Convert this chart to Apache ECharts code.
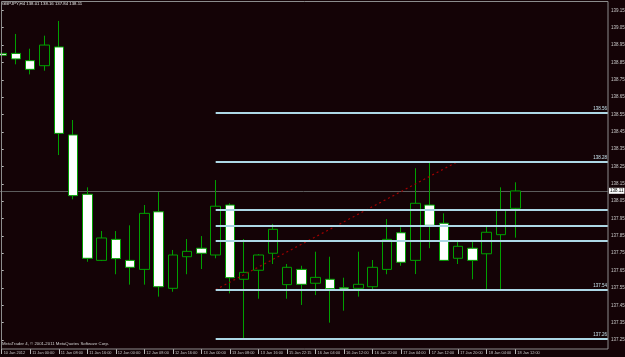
<!DOCTYPE html>
<html><head><meta charset="utf-8">
<script src="https://cdn.jsdelivr.net/npm/echarts@6/dist/echarts.min.js"></script>
<style>html,body{margin:0;padding:0;background:#140306;}#c{width:625px;height:357px;}</style>
</head><body><div id="c"></div>
<script>
const symbolTitle = 'GBPJPY,H4 138.01 138.16 137.84 138.11';
const copyright = 'MetaTrader 4, \u00a9 2001-2011 MetaQuotes Software Corp.';

const categories = ['10 Jan 2012','10 Jan 20:00','11 Jan 00:00','11 Jan 04:00','11 Jan 08:00','11 Jan 12:00',
  '11 Jan 16:00','11 Jan 20:00','12 Jan 00:00','12 Jan 04:00','12 Jan 08:00','12 Jan 12:00','12 Jan 16:00',
  '12 Jan 20:00','13 Jan 00:00','13 Jan 04:00','13 Jan 08:00','13 Jan 12:00','13 Jan 16:00','13 Jan 20:00',
  '15 Jan 22:15','16 Jan 00:00','16 Jan 04:00','16 Jan 08:00','16 Jan 12:00','16 Jan 16:00','16 Jan 20:00',
  '17 Jan 00:00','17 Jan 04:00','17 Jan 08:00','17 Jan 12:00','17 Jan 16:00','17 Jan 20:00','18 Jan 00:00',
  '18 Jan 04:00','18 Jan 08:00','18 Jan 12:00'];

const opens  = [138.902,138.902,138.860,138.831,138.939,138.432,138.090,137.709,137.830,137.709,137.657,137.989,137.548,137.730,137.779,137.740,138.028,137.600,137.652,137.750,137.569,137.657,137.577,137.600,137.551,137.548,137.557,137.657,137.868,137.709,138.028,137.923,137.721,137.779,137.747,137.857,138.009];
const closes = [138.891,138.870,138.810,138.950,138.441,138.082,137.721,137.838,137.719,137.669,137.980,137.557,137.740,137.761,137.750,138.021,137.609,137.640,137.740,137.888,137.669,137.571,137.611,137.546,137.544,137.571,137.669,137.830,137.698,138.038,137.911,137.709,137.790,137.709,137.871,137.998,138.109];
const lows   = [138.845,138.839,138.781,138.802,138.316,138.061,137.701,137.705,137.629,137.569,137.569,137.500,137.528,137.629,137.659,137.721,137.519,137.260,137.488,137.688,137.488,137.452,137.509,137.350,137.419,137.500,137.542,137.629,137.678,137.630,137.779,137.705,137.688,137.600,137.544,137.544,137.840];
const highs  = [139.054,139.014,138.929,139.004,139.089,138.518,138.130,137.878,137.878,137.911,138.028,138.103,137.769,137.832,137.849,138.172,138.038,137.832,137.745,137.919,137.688,137.678,137.759,137.730,137.609,137.759,137.711,137.947,137.900,138.240,138.272,137.980,137.822,137.822,137.913,138.130,138.159];

const fibLevels = [138.56, 138.28, 138.00, 137.91, 137.82, 137.54, 137.26];
const fibLabels = ['138.56', '138.28', '', '', '', '137.54', '137.26'];
const fibStartBar = 15;
const trendBars = [15, 32];
const trendPrices = [137.54, 138.28];
const lastPrice = 138.11;

const yMin = 137.15, yMax = 139.25, yStep = 0.1;
const nSlots = 43;
const FONT = 'Liberation Sans';
const FS = 4.5;
const BG = '#140306';

const xCats = categories.concat(new Array(nSlots - categories.length).fill(''));
const candleData = categories.map((c, i) => [opens[i], closes[i], lows[i], highs[i]]);
const showIdx = (i) => i % 2 === 0 && i < categories.length;

const chart = echarts.init(document.getElementById('c'), null, {renderer: 'canvas'});
chart.setOption({
  backgroundColor: BG,
  animation: false,
  title: {text: symbolTitle, left: 2, top: 2, padding: 0,
    textStyle: {color: '#e6e6e6', fontSize: 4.3, fontFamily: FONT, fontWeight: 'normal'}},
  grid: {left: -5.43, right: 17, top: -7, bottom: -0.35, containLabel: false, outerBoundsMode: 'none'},
  xAxis: [
    {type: 'category', data: xCats, boundaryGap: true, offset: -8.35,
      axisLine: {show: false},
      axisTick: {show: true, alignWithLabel: true, interval: showIdx, length: 5, lineStyle: {color: '#b8b8b8'}},
      axisLabel: {interval: showIdx, align: 'left', margin: 2, padding: [0, 0, 0, 2], color: '#c8c8c8', fontSize: 3.9, fontFamily: FONT},
      splitLine: {show: false}},
    {type: 'value', min: -0.5, max: nSlots - 0.5, show: false}
  ],
  yAxis: {type: 'value', position: 'right', min: yMin, max: yMax, interval: yStep,
    axisLine: {show: false},
    axisTick: {show: true, length: 2, lineStyle: {color: '#b8b8b8'}},
    axisLabel: {showMinLabel: false, showMaxLabel: false, margin: 3, color: '#c8c8c8', fontSize: FS, fontFamily: FONT,
      formatter: v => v.toFixed(2)},
    splitLine: {show: false}},
  graphic: [
    {type: 'rect', shape: {x: 1.5, y: 1.5, width: 606.5, height: 347.5}, style: {fill: null, stroke: '#8c8c8c', lineWidth: 1}, z: 50, silent: true},
    {type: 'text', left: 2, top: 342, style: {text: copyright, fill: '#d0d0d0', fontSize: 4.3, fontFamily: FONT}, z: 50}
  ],
  series: [
    {type: 'line', xAxisIndex: 1, data: [], symbol: 'none', z: 1,
      markLine: {silent: true, z: 1, symbol: ['none', 'none'], animation: false,
        lineStyle: {color: '#5c5c5c', width: 1, type: 'solid'},
        label: {show: true, position: 'end', distance: 1, formatter: lastPrice.toFixed(2), backgroundColor: '#ffffff',
          color: '#000000', fontSize: FS, fontFamily: FONT, padding: [0.5, 1]},
        data: [{yAxis: lastPrice}]}},
    {type: 'candlestick', data: candleData, barWidth: 10, z: 2,
      itemStyle: {color: BG, color0: '#ffffff', borderColor: '#00a000', borderColor0: '#00a000', borderWidth: 1}},
    {type: 'line', xAxisIndex: 1, data: trendBars.map((b, i) => [b, trendPrices[i]]), symbol: 'none', z: 3,
      lineStyle: {color: '#a00000', width: 1.2, type: [2, 3]},
      markLine: {silent: true, z: 6, symbol: ['none', 'none'], animation: false,
        lineStyle: {color: '#add8e6', width: 2, type: 'solid'},
        label: {show: true, position: 'insideEndTop', distance: 1, color: '#c8e4ee', fontSize: FS, fontFamily: FONT},
        data: fibLevels.map((v, i) => [
          {coord: [fibStartBar, v], label: {show: fibLabels[i] !== '', formatter: fibLabels[i]}},
          {coord: [nSlots - 0.5, v]}
        ])}}
  ]
});
</script></body></html>
